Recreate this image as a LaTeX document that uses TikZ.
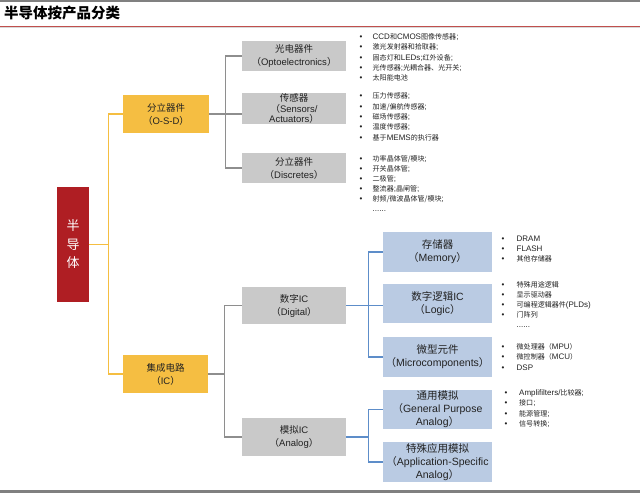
\documentclass[tikz,border=0pt]{standalone}
\usepackage{fontspec}
\setmainfont{Liberation Sans}
\newfontfamily\cjk{Noto Sans CJK SC}
\newfontfamily\cjks[Scale=0.88]{Noto Sans CJK SC}
\newcommand\zhb[1]{{\cjk #1}}
\newcommand\zhs[1]{{\cjks #1}}
\newlength\bulw
\setlength\bulw{13pt}
\newcommand\bl{\makebox[\bulw][l]{\textbullet}}
\newcommand\nb{\makebox[\bulw][l]{}}
\definecolor{boxred}{HTML}{AF1E23}
\definecolor{boxyel}{HTML}{F5BE42}
\definecolor{boxgray}{HTML}{C9C9C9}
\definecolor{boxblue}{HTML}{BACBE3}
\definecolor{lineyel}{HTML}{F5BE41}
\definecolor{linegray}{HTML}{8E8E8E}
\definecolor{lineblue}{HTML}{5D8DC9}
\definecolor{titlered}{HTML}{C0504D}
\definecolor{rulegray}{HTML}{808080}
\definecolor{txt}{HTML}{222222}
\begin{document}
\begin{tikzpicture}[x=1pt,y=-1pt,
  ybox/.style={fill=boxyel, minimum width=86pt, minimum height=38pt, inner sep=0pt, align=center, text=txt, font=\fontsize{9.5}{13}\selectfont},
  gbox/.style={fill=boxgray, minimum width=104pt, minimum height=30pt, inner sep=0pt, align=center, text=txt, font=\fontsize{9.5}{13}\selectfont},
  bbox/.style={fill=boxblue, minimum width=109pt, minimum height=40pt, inner sep=0pt, align=center, text=txt, font=\fontsize{10.5}{13}\selectfont},
  lst/.style={inner sep=0pt, anchor=west, text=txt, font=\fontsize{8}{#1}\selectfont},
  lst/.default=10.4,
  ylink/.style={draw=lineyel, line width=1.1pt},
  glink/.style={draw=linegray, line width=1.1pt},
  blink/.style={draw=lineblue, line width=1.1pt}]
\useasboundingbox (0,0) rectangle (640,493);
% rules
\fill[rulegray] (0,0) rectangle (640,1.6);
\draw[titlered, line width=0.9pt] (0,26.5) -- (640,26.5);
\draw[black!15, line width=0.6pt] (0,27.6) -- (640,27.6);
\fill[rulegray] (0,490) rectangle (640,492.6);
\node[anchor=west, inner sep=0pt, font=\cjk\bfseries\fontsize{14.5}{16}\selectfont] (title) at (4,13.5) {半导体按产品分类};
% root
\node[fill=boxred, minimum width=32pt, minimum height=115pt, inner sep=0pt, align=center, text=white, font=\cjk\fontsize{13}{18.5}\selectfont] (red) at (73,244.5) {半\\导\\体};
% level 1
\node[ybox] (osd) at (166,114) {\zhb{分立器件}\\\zhb{（}O-S-D\zhb{）}};
\node[ybox, minimum width=85pt] (ic) at (165.5,374) {\zhb{集成电路}\\\zhb{（}IC\zhb{）}};
% level 2
\node[gbox] (opto) at (294,56) {\zhb{光电器件}\\\zhb{（}Optoelectronics\zhb{）}};
\node[gbox, minimum height=29pt, font=\fontsize{9.5}{10.6}\selectfont] (sens) at (294,108.5) {\zhb{传感器}\\\zhb{（}Sensors/\\Actuators\zhb{）}};
\node[gbox] (disc) at (294,168) {\zhb{分立器件}\\\zhb{（}Discretes\zhb{）}};
\node[gbox, minimum height=37pt] (dig) at (294,305.5) {\zhb{数字}IC\\\zhb{（}Digital\zhb{）}};
\node[gbox, minimum height=38pt] (ana) at (294,437) {\zhb{模拟}IC\\\zhb{（}Analog\zhb{）}};
% level 3
\node[bbox] (mem) at (437.5,252) {\zhb{存储器}\\\zhb{（}Memory\zhb{）}};
\node[bbox, minimum height=39pt] (logic) at (437.5,303.5) {\zhb{数字逻辑}IC\\\zhb{（}Logic\zhb{）}};
\node[bbox] (micro) at (437.5,357) {\zhb{微型元件}\\\zhb{（}Microcomponents\zhb{）}};
\node[bbox, minimum height=39pt] (gpa) at (437.5,409.5) {\zhb{通用模拟}\\\zhb{（}General Purpose\\Analog\zhb{）}};
\node[bbox] (asa) at (437.5,462) {\zhb{特殊应用模拟}\\\zhb{（}Application-Specific\\Analog\zhb{）}};
% connectors
\draw[ylink] (red.east) -- ++(20,0);
\draw[ylink] (osd.west) -- ++(-14,0) |- (ic.west);
\draw[glink] (osd.east) -- (osd.east -| sens.west);
\draw[glink] (opto.west) -- ++(-16,0) |- (disc.west);
\draw[glink] (ic.east) -- ++(17,0);
\draw[glink] (dig.west) -- ++(-17,0) |- (ana.west);
\draw[blink] (dig.east) -- (dig.east -| logic.west);
\draw[blink] (mem.west) -- ++(-14,0) |- (micro.west);
\draw[blink] (ana.east) -- ++(23,0);
\draw[blink] (gpa.west) -- ++(-14,0) |- (asa.west);
% lists
\node[lst] (l1) at (359.5,58) {\begin{tabular}{@{}l@{}}
\bl CCD\zhs{和}CMOS\zhs{图像传感器};\\
\bl\zhs{激光发射器和拾取器};\\
\bl\zhs{固态灯和}LEDs;\zhs{红外设备};\\
\bl\zhs{光传感器};\zhs{光耦合器、光开关};\\
\bl\zhs{太阳能电池}
\end{tabular}};
\node[lst=10.3] (l2) at (359.5,117.5) {\begin{tabular}{@{}l@{}}
\bl\zhs{压力传感器};\\
\bl\zhs{加速/偏航传感器};\\
\bl\zhs{磁场传感器};\\
\bl\zhs{温度传感器};\\
\bl\zhs{基于}MEMS\zhs{的执行器}
\end{tabular}};
\node[lst=10.1] (l3) at (359.5,184.5) {\begin{tabular}{@{}l@{}}
\bl\zhs{功率晶体管/模块};\\
\bl\zhs{开关晶体管};\\
\bl\zhs{二极管};\\
\bl\zhs{整流器};\zhs{晶闸管};\\
\bl\zhs{射频/微波晶体管/模块};\\
\nb......
\end{tabular}};
\node[lst=9.7] (l4) at (501.5,249.5) {\setlength\bulw{15pt}\begin{tabular}{@{}l@{}}
\bl DRAM\\
\bl FLASH\\
\bl\zhs{其他存储器}
\end{tabular}};
\node[lst=9.8] (l5) at (501.5,305.5) {\setlength\bulw{15pt}\begin{tabular}{@{}l@{}}
\bl\zhs{特殊用途逻辑}\\
\bl\zhs{显示驱动器}\\
\bl\zhs{可编程逻辑器件}(PLDs)\\
\bl\zhs{门阵列}\\
\nb......
\end{tabular}};
\node[lst=10.5] (l6) at (501.5,357.5) {\setlength\bulw{15pt}\begin{tabular}{@{}l@{}}
\bl\zhs{微处理器（}MPU\zhs{）}\\
\bl\zhs{微控制器（}MCU\zhs{）}\\
\bl DSP
\end{tabular}};
\node[lst=10.3] (l7) at (504.5,409) {\setlength\bulw{14.5pt}\begin{tabular}{@{}l@{}}
\bl Amplifilters/\zhs{比较器};\\
\bl\zhs{接口};\\
\bl\zhs{能源管理};\\
\bl\zhs{信号转换};
\end{tabular}};
\end{tikzpicture}
\end{document}
